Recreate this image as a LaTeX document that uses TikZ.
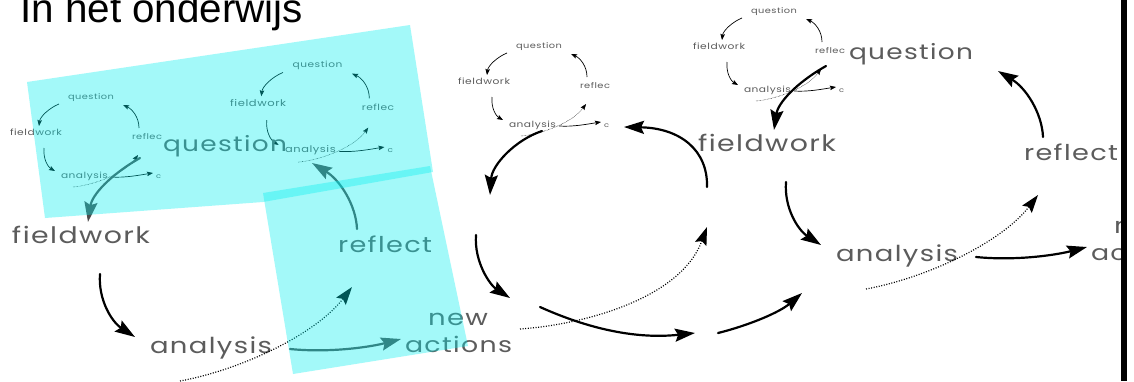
\documentclass[tikz,border=0pt]{standalone}
\usepackage{fontspec}
\usepackage{graphicx}
\usetikzlibrary{arrows.meta}
\newfontfamily\handfont{Poppins}[LetterSpace=5]
\newfontfamily\titlefont{Liberation Sans}
\definecolor{txtgray}{RGB}{92,92,92}
\definecolor{cyanov}{RGB}{0,240,240}
\newcommand\hw[2]{\resizebox{#1}{!}{\scalebox{1}[0.8]{\handfont #2}}}
\tikzset{
  lbl/.style={inner sep=0pt, outer sep=0pt, anchor=base west, text=txtgray},
  bigarr/.style={line width=2.2pt, line cap=round, -{Stealth[length=20pt,width=13pt,inset=3pt]}},
  bigdot/.style={line width=1.2pt, dash pattern=on 1pt off 1.6pt, -{Stealth[length=18pt,width=12pt,inset=3pt]}},
  smallarr/.style={line width=0.7pt, -{Stealth[length=6pt,width=4.5pt,inset=1pt]}},
  smalldot/.style={line width=0.4pt, dash pattern=on 0.6pt off 0.8pt, -{Stealth[length=6pt,width=4.5pt,inset=1pt]}},
  overlay/.style={fill=cyanov, fill opacity=0.36}
}
% small cycle: name, origin x, origin y (base of "fieldwork"), scale
\newcommand\minicycle[4]{%
\begin{scope}[shift={(#2,#3)},scale=#4]
  \node[lbl] (#1q) at (58,-36) {\hw{#4\dimexpr46pt\relax}{question}};
  \node[lbl] (#1f) at (0,0) {\hw{#4\dimexpr52pt\relax}{fieldwork}};
  \node[lbl] (#1r) at (122,4) {\hw{#4\dimexpr30pt\relax}{reflec}};
  \node[lbl] (#1a) at (51,43) {\hw{#4\dimexpr47pt\relax}{analysis}};
  \node[lbl] (#1c) at (146,43) {\hw{#4\dimexpr5pt\relax}{c}};
  \coordinate (#1qf0) at (49,-31); \coordinate (#1qf1) at (29,-9);
  \coordinate (#1fa0) at (34,13);  \coordinate (#1fa1) at (45,36);
  \coordinate (#1rq0) at (129,-7); \coordinate (#1rq1) at (113,-30);
  \coordinate (#1ac0) at (101,42); \coordinate (#1ac1) at (143,38);
  \coordinate (#1ar0) at (63,52);  \coordinate (#1ar1) at (128,20);
  \draw[smallarr] (#1qf0) .. controls (39,-27) and (30,-18) .. (#1qf1);
  \draw[smallarr] (#1fa0) .. controls (33,24) and (38,32) .. (#1fa1);
  \draw[smallarr] (#1rq0) .. controls (129,-18) and (122,-26) .. (#1rq1);
  \draw[smallarr] (#1ac0) .. controls (115,43) and (130,40) .. (#1ac1);
  \draw[smalldot] (#1ar0) .. controls (85,50) and (115,38) .. (#1ar1);
\end{scope}}
% big cycle: name, origin x, origin y (base of "fieldwork"), arrow colour
\newcommand\bigcycle[4]{%
\begin{scope}[shift={(#2,#3)}]
  \node[lbl] (#1q) at (151,-92) {\hw{124pt}{question}};
  \node[lbl] (#1f) at (0,0) {\hw{138pt}{fieldwork}};
  \node[lbl] (#1r) at (326,9) {\hw{94pt}{reflect}};
  \node[lbl] (#1a) at (138,110) {\hw{122pt}{analysis}};
  \node[lbl] (#1n) at (416,82) {\hw{60pt}{new}};
  \node[lbl] (#1x) at (393,109) {\hw{107pt}{actions}};
  \coordinate (#1qf0) at (128,-85); \coordinate (#1qf1) at (76,-21);
  \coordinate (#1fa0) at (88,31);   \coordinate (#1fa1) at (123,94);
  \coordinate (#1an0) at (278,106); \coordinate (#1an1) at (389,96);
  \coordinate (#1rq0) at (345,-14); \coordinate (#1rq1) at (300,-80);
  \coordinate (#1ar0) at (168,138); \coordinate (#1ar1) at (340,44);
  \draw[bigarr,draw=#4] (#1qf0) .. controls (98,-68) and (80,-48) .. (#1qf1);
  \draw[bigarr] (#1fa0) .. controls (86,57) and (100,79) .. (#1fa1);
  \draw[bigarr,draw=#4] (#1an0) .. controls (318,110) and (358,104) .. (#1an1);
  \draw[bigarr,draw=#4] (#1rq0) .. controls (344,-38) and (328,-63) .. (#1rq1);
  \draw[bigdot] (#1ar0) .. controls (228,127) and (303,92) .. (#1ar1);
\end{scope}}
\begin{document}
\begin{tikzpicture}[x=1pt,y=-1pt]
\fill[white] (0,0) rectangle (1134,381);
\useasboundingbox (0,0) rectangle (1134,381);
\begin{scope}
  \clip (0,0) rectangle (1121,381);
  \node[anchor=base west, inner sep=0pt, font=\titlefont\fontsize{40.4}{48}\selectfont] (title) at (20,22.7) {In het onderwijs};
  \minicycle{a1-}{10}{135}{1}
  \minicycle{a2-}{230}{106}{1.08}
  \minicycle{b-}{458}{84}{1}
  \minicycle{c1-}{693}{49}{1}
  \bigcycle{A-}{12}{243}{black!70}
  \bigcycle{C-}{698}{151}{black}
  % middle cycle, arrows only
  \coordinate (B-qf0) at (542,131); \coordinate (B-qf1) at (490,195);
  \coordinate (B-rq0) at (707,187); \coordinate (B-rq1) at (624,127);
  \coordinate (B-fa0) at (476,235); \coordinate (B-fa1) at (510,298);
  \coordinate (B-an0) at (540,307); \coordinate (B-an1) at (695,333);
  \coordinate (B-ar0) at (520,329); \coordinate (B-ar1) at (707,227);
  \coordinate (B-ca0) at (718,333); \coordinate (B-ca1) at (802,293);
  \draw[bigarr] (B-qf0) .. controls (515,140) and (492,165) .. (B-qf1);
  \draw[bigarr] (B-rq0) .. controls (708,150) and (680,128) .. (B-rq1);
  \draw[bigarr] (B-fa0) .. controls (474,262) and (490,285) .. (B-fa1);
  \draw[bigarr] (B-an0) .. controls (580,325) and (630,340) .. (B-an1);
  \draw[bigdot] (B-ar0) .. controls (580,325) and (680,300) .. (B-ar1);
  \draw[bigarr] (B-ca0) .. controls (750,325) and (780,312) .. (B-ca1);
  % cyan overlays
  \fill[overlay] (27,82) -- (410,25) -- (433,172) -- (263,202) -- (45,218) -- cycle;
  \fill[overlay] (263,193) -- (430,166) -- (468,346) -- (293,374) -- cycle;
\end{scope}
\fill[black] (1121,0) rectangle (1127,381);
\end{tikzpicture}
\end{document}
